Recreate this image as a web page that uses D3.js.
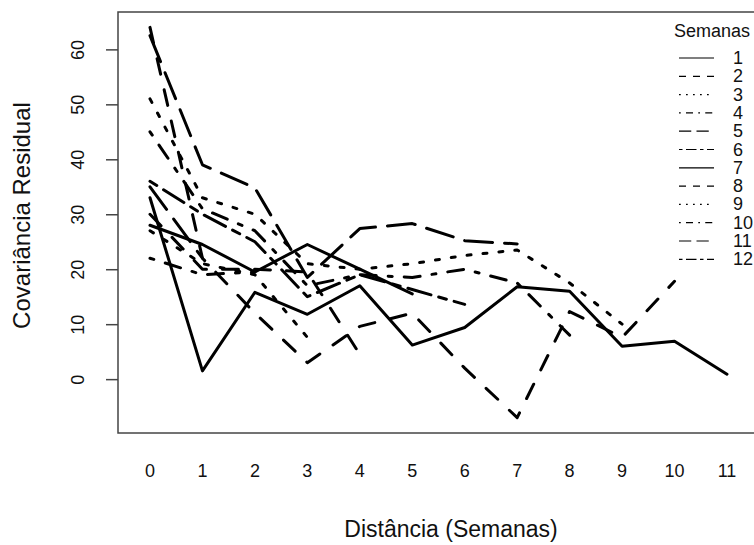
<!DOCTYPE html>
<html>
<head>
<meta charset="utf-8">
<script src="https://cdn.jsdelivr.net/npm/d3@7"></script>
<style>
  body { margin: 0; background: #fff; }
  text { font-family: 'Liberation Sans', Arial, sans-serif; fill: #111; }
</style>
</head>
<body>
<div id="chart"></div>
<script>
// distance (weeks) on the x axis
const distances = [0, 1, 2, 3, 4, 5, 6, 7, 8, 9, 10, 11];
const weeks = ['1', '2', '3', '4', '5', '6', '7', '8', '9', '10', '11', '12'];
const yTicks = [0, 10, 20, 30, 40, 50, 60];

// residual covariance of week i with week i + d
const week1 = [33, 1.5, 15.8, 11.8, 17, 6.2, 9.4, 16.8, 16, 6, 6.9, 0.9];
const week2 = [64, 22, 12, 3, 9.6, 12, 2, -7, 12.3, 7.6, 17.8];
const week3 = [51, 33, 30, 21, 20, 21, 22.5, 23.5, 17.5, 10];
const week4 = [45, 31, 27, 17, 19, 18.5, 20, 17.5, 8];
const week5 = [62.5, 39, 34.8, 18.5, 27.4, 28.3, 25.2, 24.6];
const week6 = [36, 30, 25, 15, 19, 16.3, 13.6];
const week7 = [28, 24.5, 19.5, 24.5, 20, 15.5];
const week8 = [30, 20, 20, 19.5, 4.5];
const week9 = [27, 21, 19, 7.6];
const week10 = [22, 19, 19.5];
const week11 = [35, 22];
const week12 = [25];

const series = [week1, week2, week3, week4, week5, week6, week7, week8, week9, week10, week11, week12];

// R line types 1..6, recycled
const ltyBase = [null, [4, 4], [1, 3], [1, 3, 4, 3], [7, 3], [2, 2, 6, 2]];
const dash = (i, k) => {
  const p = ltyBase[i % 6];
  return p ? p.map((v) => v * k).join(' ') : null;
};

const w = 754, h = 545;
const svg = d3.select('#chart').append('svg').attr('width', w).attr('height', h);

// plot region; right side runs off the picture like the original
const x = d3.scaleLinear().domain([-0.61, 15.9]).range([118, 984]);
const y = d3.scaleLinear().domain([-9.8, 66.8]).range([433, 12]);

svg.append('rect')
  .attr('x', x(-0.61))
  .attr('y', y(66.8))
  .attr('width', x(15.9) - x(-0.61))
  .attr('height', y(-9.8) - y(66.8))
  .attr('fill', 'none')
  .attr('stroke', '#444')
  .attr('stroke-width', 1.5);

// y axis, ticks on the left, labels rotated
const yAxis = d3.axisLeft(y).tickValues(yTicks).tickSize(12);
const gy = svg.append('g').attr('transform', `translate(${x(-0.61)},0)`).call(yAxis);
gy.select('.domain').remove();
gy.selectAll('line').attr('stroke', '#444').attr('stroke-width', 1.5);
gy.selectAll('.tick text')
  .attr('font-size', 18)
  .attr('font-family', 'Liberation Sans, Arial, sans-serif')
  .attr('fill', '#111')
  .attr('text-anchor', 'middle')
  .attr('transform', 'rotate(-90)')
  .attr('x', 0)
  .attr('y', -40)
  .attr('dy', '0.35em');

// x labels only, no ticks (interaction plot style)
svg.append('g')
  .selectAll('text')
  .data(distances)
  .join('text')
  .attr('x', (d) => x(d))
  .attr('y', 477)
  .attr('text-anchor', 'middle')
  .attr('font-size', 18)
  .text((d) => d);

svg.append('text')
  .attr('x', 451)
  .attr('y', 537)
  .attr('text-anchor', 'middle')
  .attr('font-size', 23)
  .text('Distância (Semanas)');

svg.append('text')
  .attr('transform', `translate(30,${(y(66.8) + y(-9.8)) / 2 - 7}) rotate(-90)`)
  .attr('text-anchor', 'middle')
  .attr('font-size', 24)
  .text('Covariância Residual');

// the lines
const line = d3.line()
  .x((d, i) => x(distances[i]))
  .y((d) => y(d));

svg.append('g')
  .selectAll('path')
  .data(series)
  .join('path')
  .attr('d', (d) => line(d))
  .attr('fill', 'none')
  .attr('stroke', '#000')
  .attr('stroke-width', 3)
  .attr('stroke-linecap', 'round')
  .attr('stroke-linejoin', 'round')
  .attr('stroke-dasharray', (d, i) => dash(i, 4));

// legend
const lg = svg.append('g');
lg.append('text')
  .attr('x', 712)
  .attr('y', 37)
  .attr('text-anchor', 'middle')
  .attr('font-size', 18)
  .text('Semanas');

const rows = lg.selectAll('g.row')
  .data(weeks)
  .join('g')
  .attr('class', 'row')
  .attr('transform', (d, i) => `translate(0,${58 + i * 18.3})`);

rows.append('line')
  .attr('x1', 679)
  .attr('x2', 714)
  .attr('stroke', '#000')
  .attr('stroke-width', 1.2)
  .attr('stroke-dasharray', (d, i) => dash(i, 1.75));

rows.append('text')
  .attr('x', 733)
  .attr('y', 6)
  .attr('font-size', 18)
  .text((d) => d);
</script>
</body>
</html>
